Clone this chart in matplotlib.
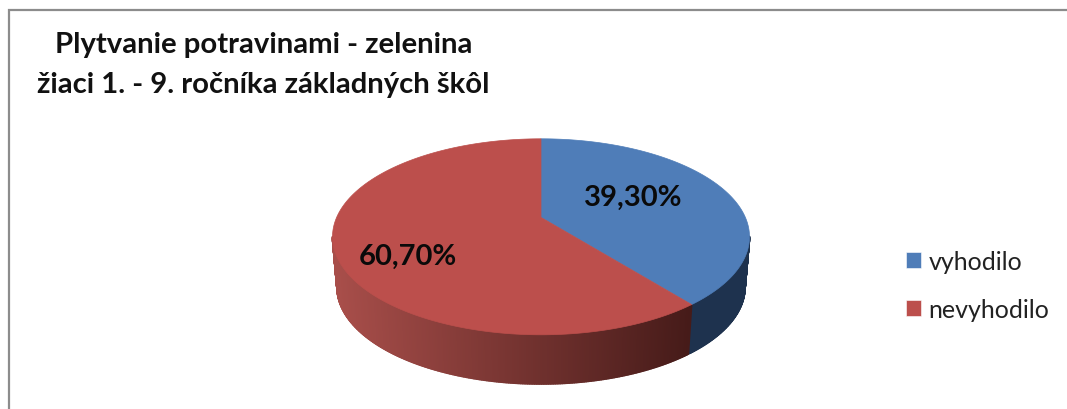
import numpy as np
import matplotlib
matplotlib.use("Agg")
import matplotlib.pyplot as plt
from matplotlib.patches import Patch
from matplotlib.collections import PolyCollection

title_lines = ["Plytvanie potravinami - zelenina", "žiaci 1. - 9. ročníka základných škôl"]
categories = ["vyhodilo", "nevyhodilo"]
values = [39.3, 60.7]
value_labels = ["39,30%", "60,70%"]
top_colors = ["#4F7DB8", "#BC4F4C"]

plt.rcParams['font.family'] = ['Lato', 'DejaVu Sans']
fig = plt.figure(figsize=(10.67, 4.10), dpi=100)
ax = fig.add_axes([0, 0, 1, 1])
ax.set_xlim(0, 1067)
ax.set_ylim(410, 0)
ax.axis('off')

# geometry of the tilted disc
CX, CY, A, B = 541, 237.8, 208.5, 98
CY2, A2, B2 = 288, 204, 97
E = 0.198


def project(theta_deg):
    t = np.radians(theta_deg)
    u, v = np.cos(t), np.sin(t)
    d = 1 + E * v
    return u * np.sqrt(1 - E ** 2) / d, (v + E) / d


def ramp(x):
    f = np.clip((x - 335) / (690 - 335), 0, 1)
    c0, c1 = np.array([168, 78, 74]), np.array([70, 27, 25])
    return tuple((c0 + (c1 - c0) * f) / 255)


total = sum(values)
start = 90.0
spans = []
for val in values:
    sweep = 360 * val / total
    spans.append((start, start - sweep))
    start -= sweep

# side wall
for i, (a0, a1) in enumerate(spans):
    th = np.arange(a0, a1 - 0.1, -0.4)
    u, v = project(th)
    polys, cols = [], []
    for j in range(len(th) - 1):
        if v[j] > 0.0 and v[j + 1] > 0.0:
            continue
        polys.append([(CX + A * u[j], CY - B * v[j]), (CX + A * u[j + 1], CY - B * v[j + 1]),
                      (CX + A2 * u[j + 1], CY2 - B2 * v[j + 1]), (CX + A2 * u[j], CY2 - B2 * v[j])])
        x = CX + A * u[j]
        cols.append((30 / 255, 50 / 255, 78 / 255) if i == 0 else ramp(x))
    ax.add_collection(PolyCollection(polys, facecolors=cols, edgecolors=cols, linewidths=1.2))

# top faces
for (a0, a1), col in zip(spans, top_colors):
    th = np.linspace(a0, a1, 240)
    u, v = project(th)
    xs = np.r_[CX, CX + A * u]
    ys = np.r_[CY - B * E, CY - B * v]
    ax.fill(xs, ys, facecolor=col, edgecolor=col, linewidth=0.5)

# value labels
ax.text(633.5, 198, value_labels[0], ha='center', va='center', fontsize=21, weight='bold', color='#0a0a0a')
ax.text(407.5, 257, value_labels[1], ha='center', va='center', fontsize=21, weight='bold', color='#0a0a0a')

# titles
ax.text(263.5, 45, title_lines[0], ha='center', va='center', fontsize=21.1, weight='bold', color='#111111')
ax.text(263.5, 85, title_lines[1], ha='center', va='center', fontsize=21.1, weight='bold', color='#111111')

# frame
ax.plot([8.5, 8.5, 1067], [410, 10.5, 10.5], color='#8c8c8c', lw=1.6, solid_joinstyle='miter')

# legend
handles = [Patch(facecolor=c, edgecolor='white', linewidth=0.4) for c in top_colors]
leg = ax.legend(handles, categories, loc='upper left', bbox_to_anchor=(906 / 1067, 1 - 251 / 410),
                bbox_transform=fig.transFigure, frameon=False, fontsize=18, labelcolor='#222222',
                handlelength=0.6, handleheight=0.6, handletextpad=0.3, labelspacing=1.0,
                borderpad=0, borderaxespad=0)

fig.savefig("out.png", dpi=100)
